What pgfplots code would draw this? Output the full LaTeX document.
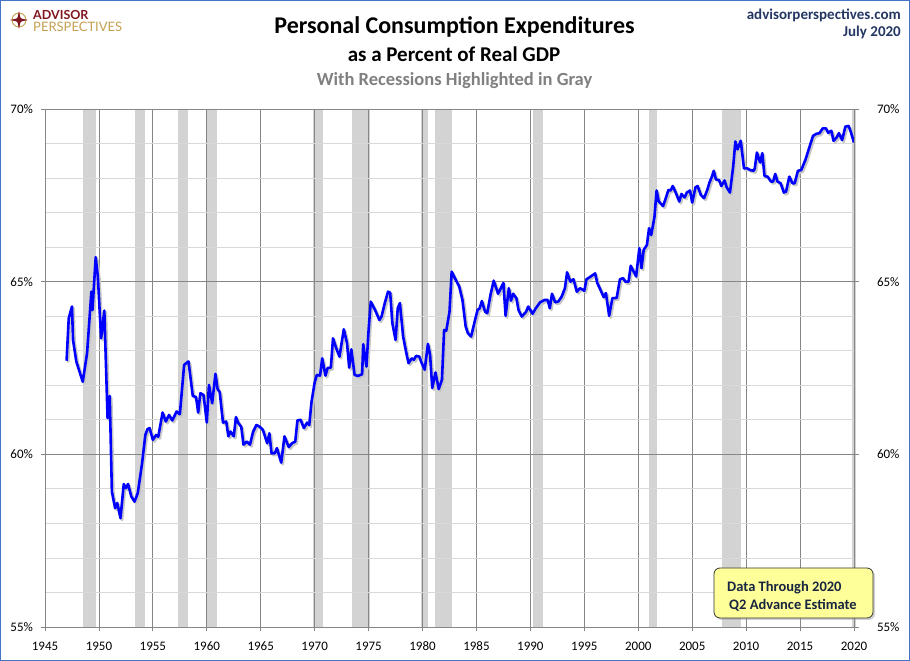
\documentclass[border=0pt]{standalone}
\usepackage{fontspec}
\setmainfont{Carlito}
\newfontfamily\lato{Lato}
\usepackage{pgfplots}
\usepackage{pgfplotstable}
\pgfplotsset{compat=1.18}
\usetikzlibrary{shadows}

\definecolor{recgray}{RGB}{211,211,211}
\definecolor{majgrid}{RGB}{134,134,134}
\definecolor{mingrid}{RGB}{217,217,217}
\definecolor{navy}{RGB}{36,54,98}
\definecolor{subgray}{RGB}{128,128,128}
\definecolor{apred}{RGB}{128,22,30}
\definecolor{apgold}{RGB}{196,160,80}
\definecolor{frameblue}{RGB}{68,114,196}
\definecolor{boxyellow}{RGB}{255,255,153}
\definecolor{boxtext}{RGB}{23,37,64}

\pgfplotstableread{
year val
1947.0 62.71
1947.2 63.94
1947.5 64.28
1947.6 63.31
1947.9 62.69
1948.5 62.10
1948.9 62.93
1949.3 64.71
1949.4 64.18
1949.7 65.71
1949.9 65.15
1950.2 63.36
1950.5 64.16
1950.8 61.05
1951.0 61.69
1951.2 58.92
1951.5 58.44
1951.7 58.59
1952.0 58.15
1952.3 59.14
1952.5 59.02
1952.7 59.14
1953.0 58.78
1953.3 58.63
1953.6 58.88
1954.0 59.74
1954.3 60.56
1954.5 60.73
1954.7 60.76
1955.0 60.42
1955.3 60.56
1955.5 60.51
1955.9 61.21
1956.2 60.95
1956.5 61.14
1956.8 60.98
1957.2 61.24
1957.5 61.16
1957.9 62.59
1958.3 62.69
1958.7 61.69
1959.0 61.66
1959.2 61.21
1959.4 61.77
1959.7 61.72
1960.0 60.92
1960.2 62.01
1960.5 61.48
1960.8 62.33
1961.0 61.89
1961.2 61.80
1961.5 60.92
1961.8 60.95
1962.0 60.52
1962.2 60.66
1962.5 60.52
1962.7 61.08
1962.9 60.92
1963.2 60.79
1963.4 60.28
1963.7 60.37
1964.0 60.28
1964.3 60.66
1964.6 60.85
1964.9 60.80
1965.2 60.71
1965.6 60.32
1965.8 60.61
1966.0 60.03
1966.3 60.03
1966.5 60.18
1966.9 59.76
1967.2 60.52
1967.6 60.21
1967.9 60.32
1968.2 60.37
1968.4 60.98
1968.7 61.00
1969.0 60.76
1969.3 60.92
1969.5 60.85
1969.7 61.50
1970.0 62.08
1970.2 62.30
1970.5 62.28
1970.7 62.78
1971.0 62.28
1971.2 62.50
1971.5 62.51
1971.7 63.36
1972.0 63.07
1972.3 62.83
1972.7 63.62
1973.0 63.22
1973.2 62.51
1973.4 63.04
1973.7 62.30
1974.0 62.27
1974.4 62.32
1974.5 63.19
1974.8 62.54
1975.0 63.60
1975.2 64.42
1975.6 64.18
1976.0 63.89
1976.2 63.99
1976.5 64.38
1976.8 64.71
1977.0 64.68
1977.2 63.80
1977.5 63.31
1977.7 64.23
1977.9 64.38
1978.2 63.41
1978.5 62.93
1978.7 62.64
1979.0 62.78
1979.2 62.74
1979.4 62.85
1979.7 62.83
1979.9 62.66
1980.2 62.45
1980.5 63.20
1980.7 62.88
1980.9 61.92
1981.2 62.37
1981.5 61.89
1981.8 62.16
1982.0 63.60
1982.2 63.58
1982.5 64.13
1982.7 65.29
1983.0 65.10
1983.4 64.86
1983.7 64.47
1984.0 63.70
1984.2 63.51
1984.5 63.41
1984.8 63.80
1985.1 64.18
1985.3 64.23
1985.5 64.44
1985.8 64.13
1986.0 64.09
1986.3 64.62
1986.6 65.03
1987.0 64.65
1987.5 64.96
1987.7 64.01
1988.0 64.81
1988.2 64.45
1988.4 64.65
1988.7 64.52
1988.9 64.18
1989.2 63.99
1989.6 64.13
1989.8 64.28
1990.2 64.07
1990.5 64.23
1990.9 64.40
1991.3 64.47
1991.6 64.47
1991.8 64.23
1992.0 64.65
1992.3 64.40
1992.6 64.43
1992.9 64.57
1993.2 64.81
1993.4 65.27
1993.7 65.00
1994.0 65.07
1994.3 64.71
1994.6 64.81
1995.0 64.74
1995.2 65.07
1995.5 65.13
1996.0 65.24
1996.2 64.96
1996.5 64.76
1996.8 64.55
1997.0 64.67
1997.3 64.01
1997.6 64.52
1998.0 64.53
1998.3 65.07
1998.6 65.10
1998.8 65.00
1999.1 65.00
1999.3 65.46
1999.5 65.34
1999.8 65.15
2000.1 65.97
2000.3 65.39
2000.5 65.92
2000.8 66.06
2001.0 66.55
2001.2 66.35
2001.5 66.87
2001.7 67.64
2001.9 67.32
2002.3 67.19
2002.5 67.37
2002.8 67.66
2003.0 67.64
2003.2 67.77
2003.5 67.56
2003.8 67.32
2004.0 67.54
2004.3 67.44
2004.5 67.58
2004.8 67.64
2005.0 67.29
2005.3 67.73
2005.5 67.77
2005.8 67.51
2006.1 67.42
2006.4 67.66
2006.6 67.87
2006.8 68.02
2007.0 68.21
2007.2 67.96
2007.5 67.94
2007.7 67.77
2008.0 67.93
2008.2 67.73
2008.5 67.58
2008.8 68.33
2009.0 69.06
2009.2 68.83
2009.5 69.08
2009.8 68.28
2010.1 68.28
2010.4 68.23
2010.7 68.21
2010.8 68.28
2011.0 68.74
2011.3 68.45
2011.5 68.72
2011.7 68.06
2012.0 68.04
2012.3 67.90
2012.5 67.90
2012.7 68.12
2012.9 67.90
2013.2 67.85
2013.5 67.58
2013.7 67.61
2014.0 68.04
2014.3 67.85
2014.5 67.85
2014.8 68.21
2015.1 68.23
2015.5 68.53
2015.8 68.83
2016.2 69.22
2016.5 69.28
2016.8 69.30
2017.1 69.44
2017.4 69.44
2017.6 69.31
2017.9 69.37
2018.1 69.08
2018.4 69.18
2018.6 69.30
2018.9 69.10
2019.2 69.49
2019.5 69.51
2019.7 69.34
2020.0 69.03
}\pcedata

\pgfplotsset{
  common/.style={
    at={(45pt,34pt)}, anchor=south west,
    width=809pt, height=518pt, scale only axis,
    xmin=1945, xmax=2020, ymin=55, ymax=70,
    ytick={55,60,65,70},
    yticklabel={\pgfmathprintnumber{\tick}\%},
    /pgf/number format/.cd, 1000 sep={}, assume math mode=true,
    /pgfplots/.cd,
    tick label style={font=\fontsize{13}{15}\selectfont, black},
    tick align=outside,
    major tick length=4.5pt,
    minor tick length=0pt,
    tick style={majgrid, line width=0.8pt},
    axis line style={majgrid, line width=0.8pt},
  }
}

\newcommand{\recession}[2]{%
  \addplot[fill=recgray, draw=none, on layer=axis background, forget plot]
    coordinates {(#1,55) (#1,70) (#2,70) (#2,55)};}

\begin{document}
\begin{tikzpicture}[x=1pt,y=1pt]

\begin{axis}[common,
  set layers,
  xtick={1945,1950,...,2020},
  minor ytick={56,57,58,59,61,62,63,64,66,67,68,69},
  ytick pos=left, xtick pos=bottom,
  grid=both,
  major grid style={majgrid, line width=0.8pt},
  minor grid style={mingrid, line width=0.8pt},
  yticklabel style={xshift=-4pt},
  xticklabel style={yshift=-7pt},
]
\recession{1948.55}{1949.75}
\recession{1953.3}{1954.3}
\recession{1957.3}{1958.25}
\recession{1960.0}{1960.95}
\recession{1969.8}{1970.75}
\recession{1973.5}{1975.1}
\recession{1979.85}{1980.5}
\recession{1981.2}{1982.75}
\recession{1990.2}{1991.2}
\recession{2001.0}{2001.75}
\recession{2007.8}{2009.5}
\recession{2019.85}{2020.2}
\addplot[black!22, line width=2.6pt, line join=round,
  transform canvas={xshift=1.6pt, yshift=-1.8pt}] table[x=year, y=val] {\pcedata};
\addplot[blue, line width=2.6pt, line join=round] table[x=year, y=val] {\pcedata};
\end{axis}

\begin{axis}[common,
  axis x line=none,
  axis y line*=right,
  yticklabel style={xshift=15pt},
]
\addplot[draw=none, forget plot] coordinates {(1945,55) (2020,70)};
\end{axis}

% titles
\node[anchor=base, font=\bfseries\fontsize{24}{27}\selectfont] at (454.5,627.5) {Personal Consumption Expenditures};
\node[anchor=base, font=\bfseries\fontsize{21}{24}\selectfont] at (454,599.5) {as a Percent of Real GDP};
\node[anchor=base, font=\bfseries\fontsize{18.5}{21}\selectfont, text=subgray] at (454.5,575) {With Recessions Highlighted in Gray};
\node[anchor=base east, font=\bfseries\fontsize{15}{17}\selectfont, text=navy, inner sep=0pt] at (901,641.5) {advisorperspectives.com};
\node[anchor=base east, font=\bfseries\fontsize{15}{17}\selectfont, text=navy, inner sep=0pt] at (901,624) {July 2020};

% logo
\draw[apgold, line width=0.9pt] (19,641) circle (7);
\fill[apred] (19,650) -- (20.6,642.6) -- (28,641) -- (20.6,639.4) -- (19,632) -- (17.4,639.4) -- (10,641) -- (17.4,642.6) -- cycle;
\fill[apred] (19,641) circle (3);
\node[anchor=north west, inner sep=0pt, align=left, font=\lato\fontsize{12.5}{11.5}\selectfont] at (33,650.5)
  {{\bfseries\color{apred}ADVISOR}\\{\fontsize{13}{11.5}\selectfont\color{apgold}PERSPECTIVES}};

% note box
\node[draw=black!80, fill=boxyellow, rounded corners=6pt, line width=0.8pt,
  minimum width=159pt, minimum height=50pt,
  drop shadow={shadow xshift=2pt, shadow yshift=-2pt, fill=black!35}] at (793.5,68) {};
\node[anchor=base west, inner sep=0pt, font=\bfseries\fontsize{14.5}{16}\selectfont, text=boxtext] at (727,69) {Data Through 2020};
\node[anchor=base west, inner sep=0pt, font=\bfseries\fontsize{14.5}{16}\selectfont, text=boxtext] at (729,51) {Q2 Advance Estimate};

% outer frame
\draw[frameblue, line width=1pt] (0.5,0.5) rectangle (909.5,660.5);
\pgfresetboundingbox
\path[use as bounding box] (0,0) rectangle (910,661);
\end{tikzpicture}
\end{document}
